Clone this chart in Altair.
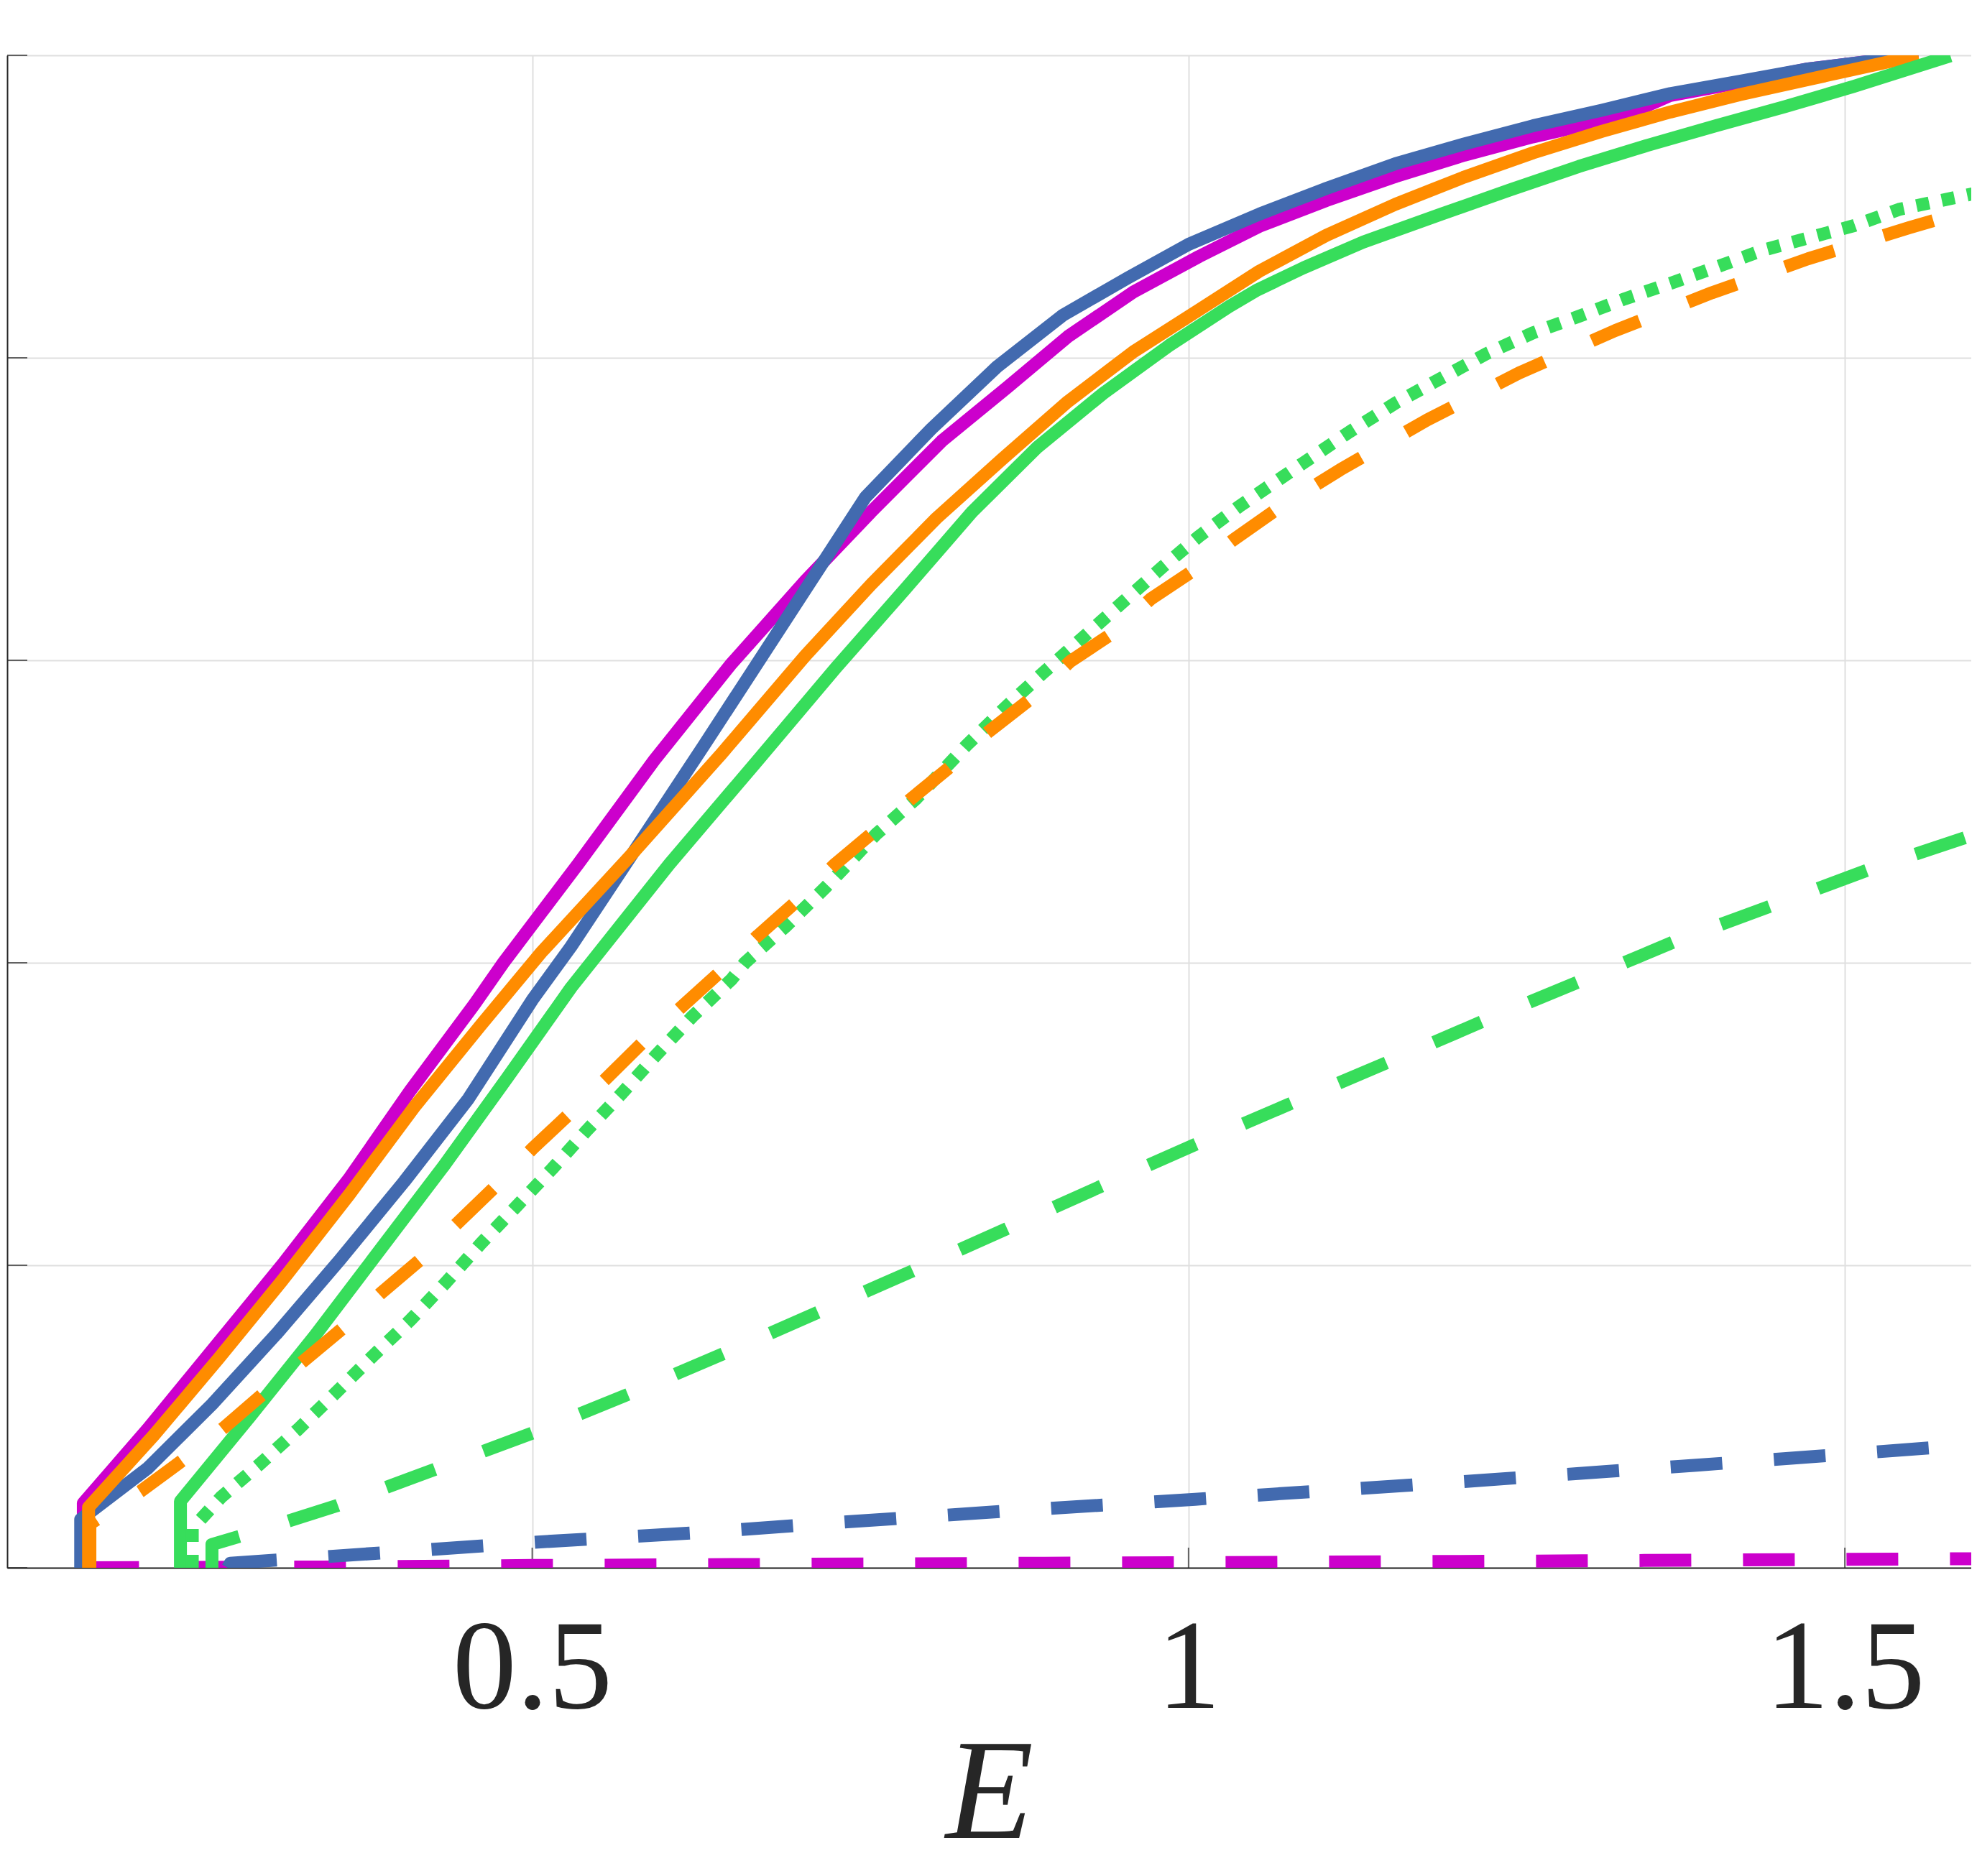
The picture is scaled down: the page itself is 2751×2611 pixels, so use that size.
import altair as alt
import pandas as pd

# ---------------- data ----------------
# magenta, solid
MS_X = [0.158, 0.158, 0.207, 0.256, 0.310, 0.361, 0.407, 0.456, 0.478, 0.535, 0.593, 0.651,
        0.708, 0.758, 0.812, 0.862, 0.908, 0.958, 1.008, 1.054, 1.105, 1.158, 1.210, 1.262,
        1.332, 1.367, 1.420, 1.472, 1.556]
MS_Y = [0.0, 0.0427, 0.0917, 0.1436, 0.2008, 0.258, 0.3154, 0.3726, 0.400, 0.4654, 0.534, 0.597,
        0.6525, 0.698, 0.745, 0.7805, 0.814, 0.8435, 0.867, 0.887, 0.904, 0.920, 0.934, 0.946,
        0.960, 0.9735, 0.982, 0.991, 1.0]

# blue, solid
BS_X = [0.156, 0.156, 0.207, 0.256, 0.305, 0.3535, 0.4025, 0.4513, 0.500, 0.5296, 0.574, 0.631,
        0.708, 0.754, 0.804, 0.854, 0.904, 0.954, 1.000, 1.054, 1.105, 1.1575, 1.210, 1.2624,
        1.3148, 1.367, 1.420, 1.472, 1.556]
BS_Y = [0.0, 0.032, 0.0658, 0.108, 0.1545, 0.2036, 0.2554, 0.310, 0.3754, 0.4108, 0.469, 0.544,
        0.6466, 0.708, 0.753, 0.794, 0.828, 0.853, 0.875, 0.895, 0.912, 0.9283, 0.9414, 0.9534,
        0.9637, 0.9747, 0.9828, 0.991, 1.0]

# orange, solid
OS_X = [0.162, 0.162, 0.2118, 0.2607, 0.3096, 0.361, 0.410, 0.461, 0.507, 0.574, 0.643, 0.708,
        0.758, 0.808, 0.858, 0.908, 0.958, 1.008, 1.054, 1.105, 1.1575, 1.210, 1.2624, 1.3148,
        1.367, 1.420, 1.472, 1.556]
OS_Y = [0.0, 0.040, 0.0877, 0.138, 0.190, 0.2472, 0.3045, 0.359, 0.407, 0.470, 0.537, 0.603,
        0.650, 0.694, 0.733, 0.771, 0.804, 0.8317, 0.8573, 0.881, 0.9015, 0.9195, 0.9355, 0.9497,
        0.9625, 0.974, 0.984, 1.0]

# green, solid
GS_X = [0.232, 0.232, 0.285, 0.334, 0.383, 0.432, 0.4807, 0.5296, 0.6045, 0.670, 0.7313, 0.785,
        0.835, 0.885, 0.935, 0.985, 1.031, 1.0526, 1.0876, 1.133, 1.1925, 1.245, 1.2973, 1.3497,
        1.402, 1.454, 1.507, 1.5804]
GS_Y = [0.0, 0.044, 0.100, 0.153, 0.209, 0.265, 0.3236, 0.3836, 0.4653, 0.532, 0.595, 0.648,
        0.698, 0.741, 0.7765, 0.808, 0.834, 0.845, 0.8595, 0.8765, 0.895, 0.911, 0.9265, 0.9405,
        0.9535, 0.966, 0.9795, 0.9997]

# green, dashed
GD_X = [0.256, 0.256, 0.278, 0.351, 0.407, 0.500, 0.574, 0.647, 0.718, 0.789, 0.861,
        0.934, 1.005, 1.078, 1.151, 1.225, 1.298, 1.371, 1.445, 1.518, 1.594, 1.600]
GD_Y = [0.0, 0.0154, 0.021, 0.041, 0.059, 0.089, 0.115, 0.142, 0.169, 0.196, 0.224,
        0.2525, 0.2798, 0.307, 0.334, 0.3616, 0.3877, 0.4143, 0.438, 0.4615, 0.4834, 0.485]

# blue, dashed
BD_X = [0.268, 0.270, 0.388, 0.500, 0.622, 0.740, 0.857, 1.005, 1.196, 1.387, 1.567, 1.600]
BD_Y = [0.0, 0.003, 0.010, 0.0168, 0.023, 0.0304, 0.0372, 0.0453, 0.0562, 0.0678, 0.0794, 0.0815]

# magenta, dashed
MD_X = [0.161, 0.340, 0.500, 0.890, 1.000, 1.300, 1.600]
MD_Y = [0.0, 0.0005, 0.0015, 0.0030, 0.0033, 0.0046, 0.0060]

# green, dotted
GT_X = [0.241, 0.241, 0.263, 0.2925, 0.3218, 0.351, 0.378, 0.4074, 0.4342, 0.461, 0.488, 0.515,
        0.5418, 0.5686, 0.5955, 0.622, 0.6518, 0.662, 0.693, 0.7236, 0.762, 0.7927, 0.8311,
        0.8619, 0.8888, 0.9195, 0.9502, 0.981, 1.008, 1.0385, 1.0526, 1.0876, 1.1226, 1.1575,
        1.1925, 1.2274, 1.2624, 1.2973, 1.3323, 1.367, 1.4022, 1.437, 1.472, 1.507, 1.542,
        1.594, 1.600]
GT_Y = [0.0, 0.026, 0.0467, 0.0686, 0.0917, 0.1163, 0.1395, 0.164, 0.1886, 0.2145, 0.239, 0.2636,
        0.2894, 0.314, 0.340, 0.3645, 0.389, 0.400, 0.424, 0.450, 0.485, 0.5087, 0.544,
        0.570, 0.5914, 0.615, 0.6387, 0.6623, 0.682, 0.7017, 0.710, 0.7306, 0.751, 0.770,
        0.7865, 0.8029, 0.8165, 0.8274, 0.839, 0.8492, 0.860, 0.871, 0.8792, 0.8874, 0.8983,
        0.9078, 0.909]

# orange, dashed
OD_X = [0.163, 0.163, 0.202, 0.234, 0.2656, 0.295, 0.324, 0.356, 0.385, 0.4147, 0.4416, 0.471,
        0.500, 0.527, 0.5565, 0.5834, 0.6127, 0.642, 0.672, 0.7006, 0.731, 0.758, 0.789, 0.8196,
        0.8465, 0.879, 0.9099, 0.9406, 0.9713, 1.002, 1.0347, 1.067, 1.1155, 1.182, 1.2519,
        1.325, 1.3987, 1.472, 1.549, 1.600]
OD_Y = [0.0, 0.029, 0.0508, 0.0713, 0.093, 0.115, 0.1354, 0.1586, 0.1818, 0.2036, 0.2267, 0.2513,
        0.277, 0.299, 0.3236, 0.3467, 0.370, 0.393, 0.418, 0.440, 0.4654, 0.485, 0.5087, 0.5304,
        0.552, 0.574, 0.5993, 0.617, 0.6406, 0.6584, 0.680, 0.6997, 0.726, 0.759, 0.790,
        0.818, 0.843, 0.8655, 0.886, 0.899]

X_TICKS = [0.5, 1.0, 1.5]
Y_TICKS = [0.0, 0.2, 0.4, 0.6, 0.8, 1.0]
X_DOMAIN = [0.1, 1.5963]
Y_DOMAIN = [0.0, 1.0]

# ---------------- styling ----------------
MAGENTA = "#CC00CC"
BLUE = "#426AAF"
ORANGE = "#FF8C00"
GREEN = "#37DD5B"
AXIS = "#262626"
GRID = "#DFDFDF"
LW = 18

x_enc = alt.X(
    "E:Q",
    scale=alt.Scale(domain=X_DOMAIN, nice=False, zero=False),
    axis=alt.Axis(
        values=X_TICKS, format="~g", grid=True, gridColor=GRID, gridWidth=2,
        domain=True, domainColor=AXIS, domainWidth=2, ticks=False, tickSize=0,
        labelFont="Liberation Serif", labelFontSize=178, labelColor=AXIS,
        labelPadding=53, labelFlush=False, labelOverlap=False, labelLimit=2000,
        title="E", titleFont="Liberation Serif", titleFontStyle="italic",
        titleFontWeight="normal", titleFontSize=200, titleColor=AXIS,
        titleY=375, titleBaseline="alphabetic", titleLimit=2000,
    ),
)
y_enc = alt.Y(
    "v:Q",
    scale=alt.Scale(domain=Y_DOMAIN, nice=False, zero=False),
    axis=alt.Axis(
        values=Y_TICKS, grid=True, gridColor=GRID, gridWidth=2,
        domain=True, domainColor=AXIS, domainWidth=2, ticks=False, tickSize=0,
        labels=False, title="",
    ),
)


def line_layer(xs, ys, color, dash=None):
    df = pd.DataFrame({"E": xs, "v": ys, "i": list(range(len(xs)))})
    kw = dict(color=color, strokeWidth=LW, strokeJoin="round", strokeCap="butt", clip=True)
    if dash:
        kw["strokeDash"] = dash
    return alt.Chart(df).mark_line(**kw).encode(x=x_enc, y=y_enc, order="i:Q")


xt = alt.Chart(pd.DataFrame({"E": X_TICKS, "v": [Y_DOMAIN[0]] * len(X_TICKS)})).mark_tick(
    orient="vertical", size=28, thickness=2, yOffset=-14, color=AXIS
).encode(x=x_enc, y=y_enc)
yt = alt.Chart(pd.DataFrame({"E": [X_DOMAIN[0]] * len(Y_TICKS), "v": Y_TICKS})).mark_tick(
    orient="horizontal", size=28, thickness=2, xOffset=14, color=AXIS
).encode(x=x_enc, y=y_enc)

DASH = [72, 72]
DOT = [18, 18]

chart = alt.layer(
    xt,
    yt,
    line_layer(MS_X, MS_Y, MAGENTA),
    line_layer(MD_X, MD_Y, MAGENTA, DASH),
    line_layer(BS_X, BS_Y, BLUE),
    line_layer(BD_X, BD_Y, BLUE, DASH),
    line_layer(OS_X, OS_Y, ORANGE),
    line_layer(GS_X, GS_Y, GREEN),
    line_layer(GD_X, GD_Y, GREEN, DASH),
    line_layer(GT_X, GT_Y, GREEN, DOT),
    line_layer(OD_X, OD_Y, ORANGE, DASH),
).properties(
    width=2733,
    height=2105,
    autosize=alt.AutoSizeParams(type="none"),
    padding={"left": 2, "top": 69, "right": 0, "bottom": 420},
    background="white",
).configure_view(stroke=None)

chart.save("out.html", embed_options={"renderer": "svg", "actions": False})
